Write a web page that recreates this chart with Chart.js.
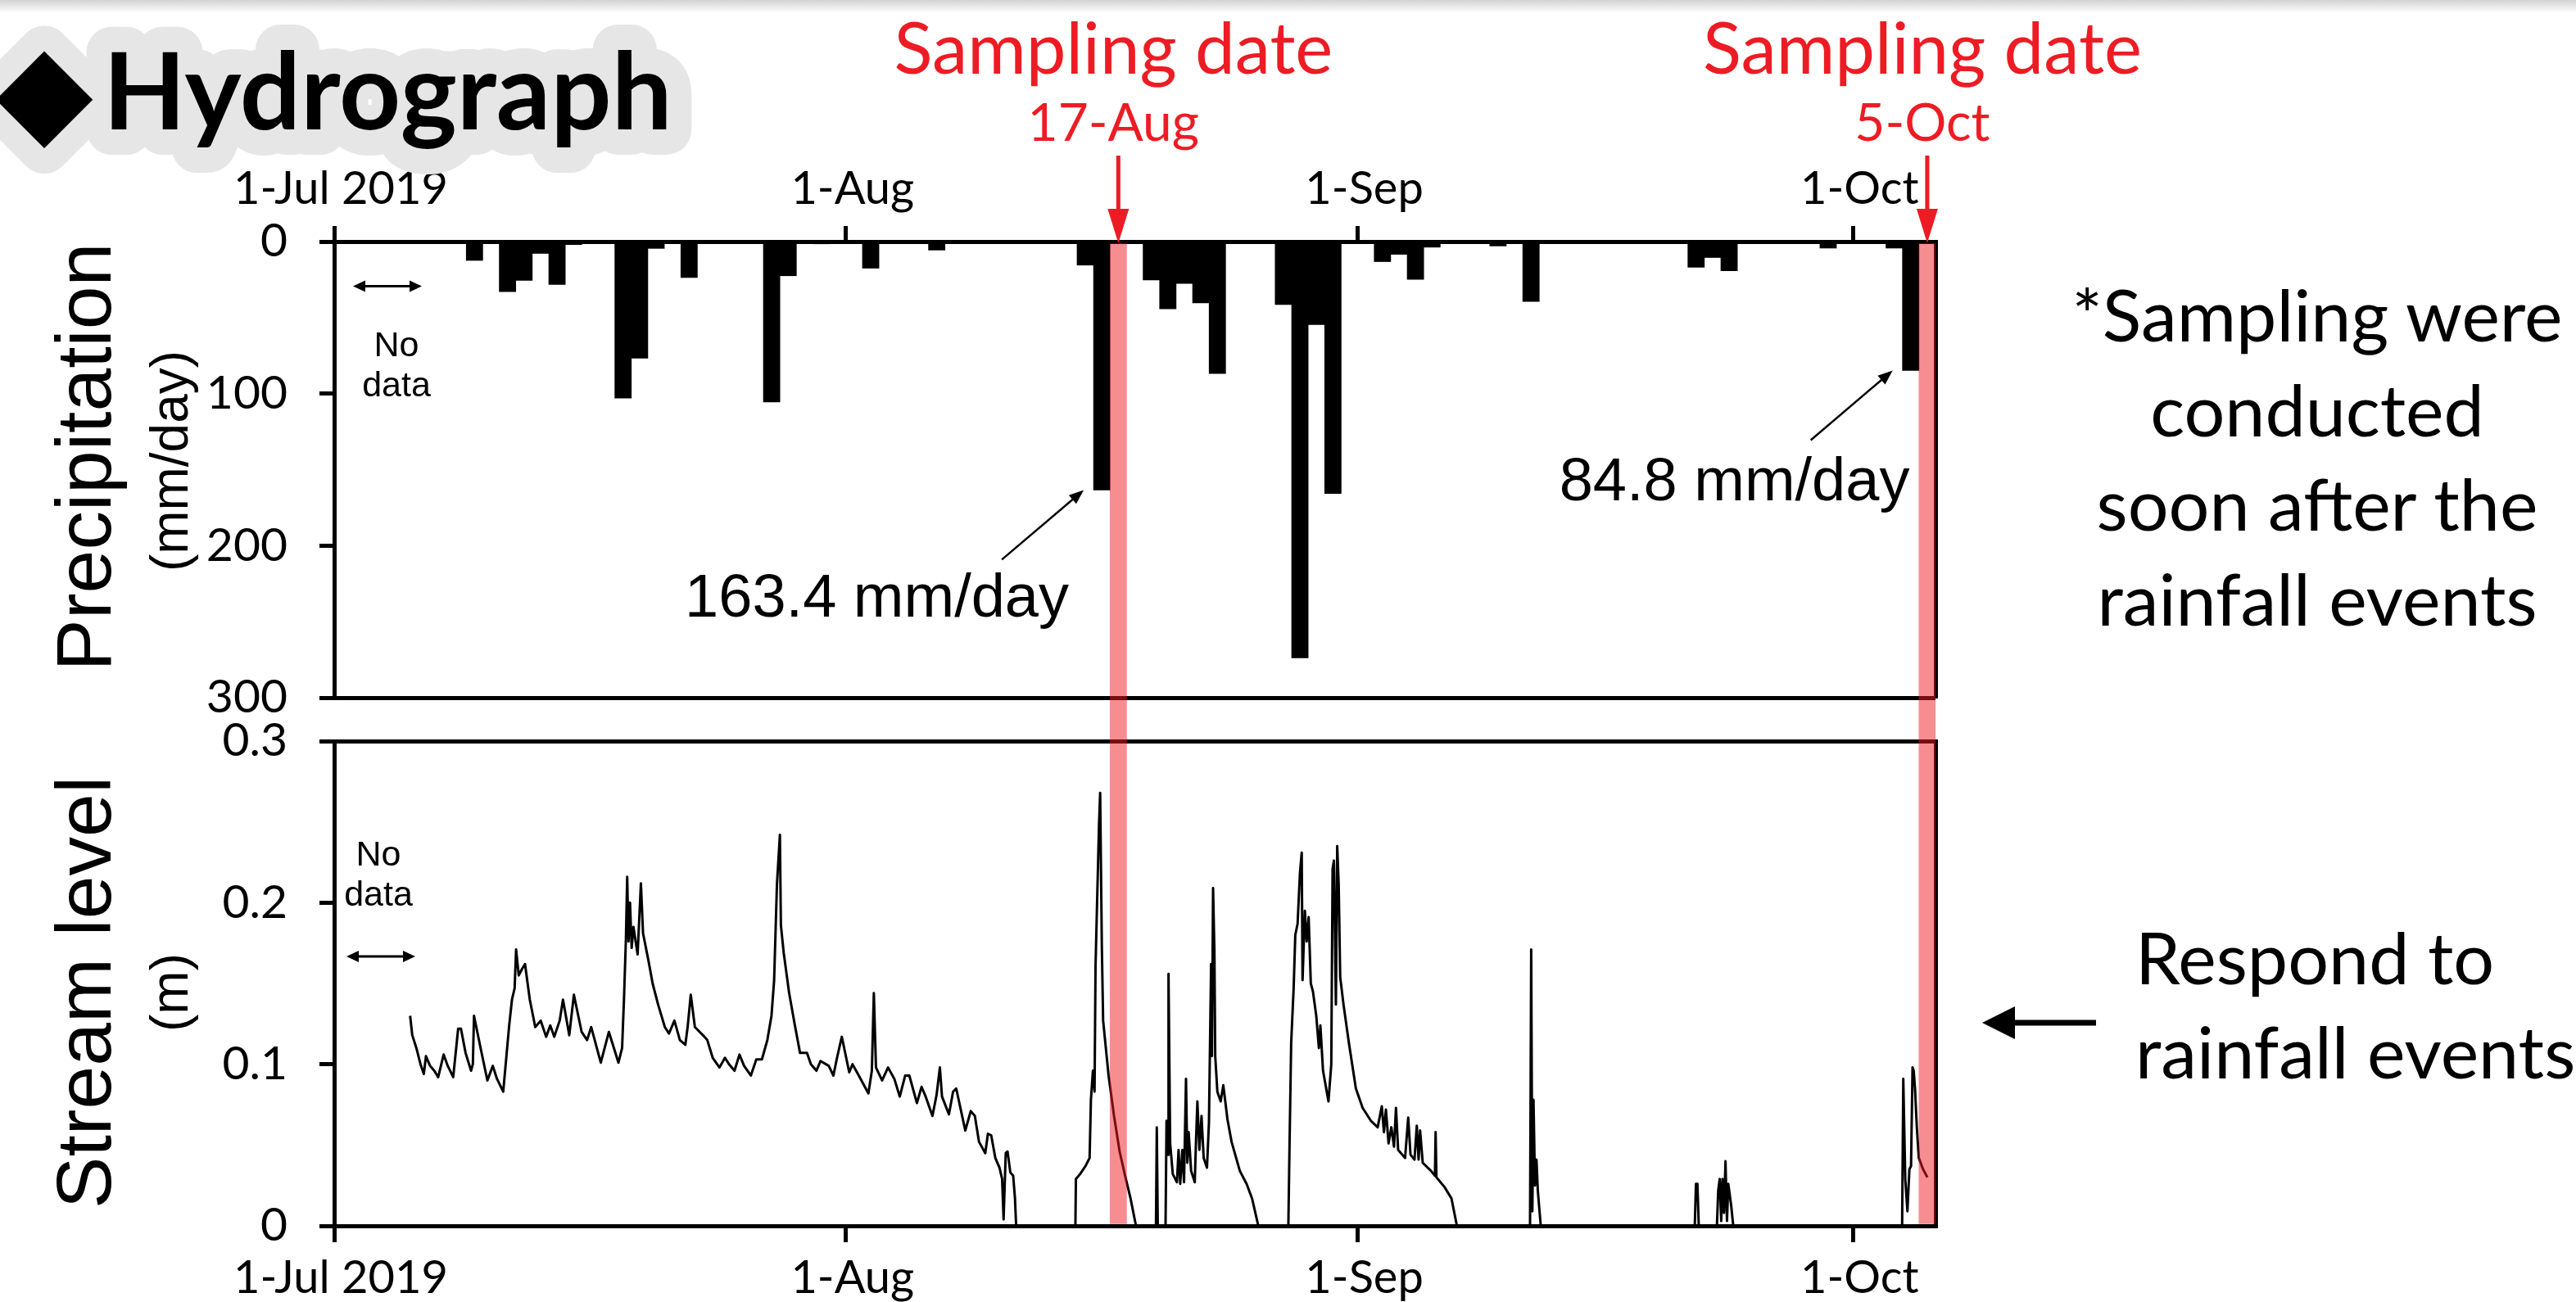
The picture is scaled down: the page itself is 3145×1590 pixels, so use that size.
<!DOCTYPE html>
<html>
<head>
<meta charset="utf-8">
<script src="https://cdn.jsdelivr.net/npm/chart.js@4.4.1/dist/chart.umd.min.js"></script>
<style>
html,body{margin:0;padding:0;background:#fff;}
#wrap{position:relative;width:3145px;height:1590px;overflow:hidden;background:#fff;}
#topbar{position:absolute;left:0;top:0;width:3145px;height:16px;background:linear-gradient(#d2d2d2,#ffffff);}
#c{position:absolute;left:0;top:0;}
#ov{position:absolute;left:0;top:0;}
</style>
</head>
<body>
<div id="wrap">
<div id="topbar"></div>
<canvas id="c" width="3145" height="1590"></canvas>
<svg id="ov" width="3145" height="1590" xmlns="http://www.w3.org/2000/svg"></svg>
</div>
<script>
// ---------------- DATA (days since 1 Jul 2019) ----------------
const precipDays   = [8, 10, 11, 12, 13, 14, 17, 18, 19, 21, 26, 27, 29, 32, 36, 45, 46, 49, 50, 51, 52, 53, 57, 58, 59, 60, 63, 64, 65, 66, 70, 72, 82, 83, 84, 90, 94, 95];
const precipValues = [12.4, 33.0, 25.6, 7.8, 28.2, 2.0, 103, 76.7, 4.5, 23.7, 105.5, 22.5, 1.5, 17.5, 5.6, 15.5, 163.4, 25.3, 44.3, 27.6, 40.4, 86.8, 41.4, 273.9, 54.6, 165.7, 13.2, 8.4, 24.9, 3.7, 2.9, 39.4, 16.9, 10.5, 19.2, 4.3, 4.3, 84.8];

const levelDays = [
 4.60,4.73,4.98,5.23,5.43,5.56,5.81,6.06,6.30,6.63,6.88,7.21,7.51,7.68,7.96,8.29,8.40,8.47,8.87,9.28,
 9.61,9.86,10.24,10.60,10.77,10.93,11.02,11.18,11.38,11.56,11.85,12.18,12.51,12.84,13.09,13.33,13.66,13.86,14.24,14.52,
 14.99,15.32,15.57,16.15,16.64,17.22,17.44,17.55,17.67,17.75,17.83,17.92,18.02,18.13,18.38,18.58,18.71,19.04,19.29,19.62,
 20.03,20.28,20.61,20.94,21.27,21.41,21.60,21.85,22.43,22.60,22.93,23.34,23.67,23.92,24.25,24.55,24.83,25.24,25.57,25.91,
 26.24,26.49,26.65,26.82,26.90,27.00,27.06,27.23,27.56,27.89,28.22,28.64,28.88,29.21,29.46,29.96,30.24,30.46,30.75,31.20,
 31.40,31.78,32.36,32.57,32.69,32.82,33.19,33.55,33.93,34.26,34.59,34.84,35.30,35.58,35.83,36.24,36.49,36.69,36.82,37.24,
 37.49,37.68,38.23,38.56,38.81,39.06,39.44,39.60,39.80,40.05,40.30,40.46,40.55,40.68,40.79,40.96,41.13,41.24,41.31,44.90,
 44.93,45.18,45.51,45.76,45.84,45.96,46.06,46.12,46.22,46.33,46.40,46.50,46.58,46.91,47.24,47.58,47.91,48.24,48.57,49.78,
 49.83,49.89,50.36,50.42,50.51,50.54,50.64,50.80,51.05,51.15,51.25,51.38,51.48,51.60,51.68,51.76,51.91,52.13,52.21,52.29,
 52.41,52.54,52.67,52.87,52.99,53.12,53.17,53.24,53.32,53.37,53.50,53.70,53.86,54.11,54.36,54.86,55.27,55.60,55.98,57.80,
 57.87,57.97,58.12,58.22,58.36,58.50,58.61,58.66,58.80,58.91,59.03,59.16,59.29,59.49,59.65,59.74,59.90,60.23,60.40,60.48,
 60.56,60.68,60.76,60.85,60.94,61.14,61.47,61.89,62.30,62.80,63.21,63.46,63.59,63.71,63.87,64.04,64.20,64.32,64.45,64.87,
 65.06,65.20,65.44,65.58,65.69,65.78,65.94,66.44,66.68,66.72,66.77,67.26,67.68,68.01,72.44,72.51,72.58,72.65,72.74,72.83,
 72.91,73.09,82.42,82.49,82.58,82.66,83.76,83.84,83.93,84.02,84.10,84.19,84.28,84.37,84.45,84.63,84.75,94.98,95.05,95.17,
 95.30,95.42,95.52,95.61,95.68,95.76,95.87,95.99,96.25,96.51
];
const levelValues = [
 0.130,0.118,0.110,0.100,0.094,0.105,0.099,0.096,0.092,0.106,0.099,0.092,0.122,0.122,0.107,0.096,0.100,0.130,0.110,0.090,
 0.099,0.091,0.083,0.124,0.140,0.147,0.171,0.155,0.159,0.162,0.140,0.123,0.127,0.117,0.124,0.117,0.127,0.140,0.118,0.143,
 0.120,0.115,0.123,0.101,0.120,0.101,0.110,0.139,0.177,0.216,0.176,0.200,0.172,0.185,0.168,0.212,0.181,0.164,0.150,0.137,
 0.123,0.119,0.127,0.115,0.112,0.123,0.143,0.123,0.117,0.115,0.104,0.098,0.104,0.100,0.096,0.106,0.099,0.093,0.103,0.103,
 0.115,0.130,0.152,0.211,0.225,0.242,0.186,0.169,0.144,0.125,0.107,0.107,0.100,0.096,0.102,0.099,0.093,0.104,0.117,0.095,
 0.100,0.093,0.082,0.096,0.144,0.098,0.090,0.098,0.091,0.080,0.093,0.093,0.076,0.086,0.080,0.068,0.081,0.098,0.080,0.069,
 0.083,0.085,0.059,0.071,0.068,0.052,0.045,0.057,0.056,0.042,0.036,0.029,0.004,0.045,0.046,0.033,0.031,0.017,0,0,
 0.029,0.032,0.037,0.042,0.078,0.096,0.083,0.161,0.203,0.248,0.268,0.174,0.127,0.093,0.068,0.046,0.031,0.017,0,0,
 0.061,0,0,0.065,0.044,0.156,0.051,0.032,0.027,0.047,0.026,0.047,0.027,0.091,0.039,0.058,0.034,0.027,0.054,0.077,
 0.047,0.068,0.042,0.036,0.064,0.162,0.105,0.209,0.170,0.105,0.083,0.077,0.087,0.066,0.052,0.034,0.026,0.017,0,0,
 0.049,0.113,0.147,0.180,0.187,0.218,0.231,0.152,0.195,0.176,0.191,0.150,0.145,0.130,0.110,0.124,0.096,0.077,0.100,0.221,
 0.226,0.137,0.235,0.211,0.154,0.137,0.113,0.085,0.073,0.065,0.061,0.074,0.058,0.072,0.051,0.061,0.049,0.073,0.047,0.042,
 0.067,0.044,0.041,0.062,0.041,0.059,0.039,0.034,0.031,0.058,0.030,0.024,0.017,0,0,0.171,0.009,0.078,0.025,0.041,
 0.022,0,0,0.026,0.026,0,0,0.022,0.029,0.003,0.029,0.008,0.040,0.003,0.026,0.012,0,0,0.091,0.029,
 0.009,0.035,0.037,0.098,0.096,0.085,0.061,0.042,0.035,0.030
];

const samplingDays   = [47, 96];
const samplingLabels = ['17-Aug', '5-Oct'];
const xTickDays   = [0, 31, 62, 92];
const xTickLabels = ['1-Jul 2019', '1-Aug', '1-Sep', '1-Oct'];
const precipTicks = [0, 100, 200, 300];
const precipTickLabels = ['0', '100', '200', '300'];
const levelTicks = [0, 0.1, 0.2, 0.3];
const levelTickLabels = ['0', '0.1', '0.2', '0.3'];
const annotatedBars = [{day: 46, value: 163.4, text: '163.4 mm/day'}, {day: 95, value: 84.8, text: '84.8 mm/day'}];

// ---------------- CHART ----------------
const BAND = 'rgba(237,28,36,0.5)';
const tickFontY = {family: 'Lato', size: 57};
const tickFontX = {family: 'Lato', size: 56};

function fixTicks(list) { return s => { s.ticks = list.map(v => ({value: v})); }; }
function leftWidth(s) { s.width = 408; }
function rightWidth(s) { s.width = 0; }

const bandDataset = (axis, lo, hi) => ({
  type: 'bar', xAxisID: 'x', yAxisID: axis,
  data: samplingDays.map(d => ({x: d + 0.5, y: [lo, hi]})),
  backgroundColor: BAND, borderWidth: 0, grouped: false,
  barPercentage: 1, categoryPercentage: 1, order: 0
});

const chart = new Chart(document.getElementById('c'), {
  type: 'line',
  data: {
    datasets: [
      bandDataset('yS', 0, 0.3),
      bandDataset('yG', 0, 1),
      bandDataset('yP', 0, 300),
      {
        type: 'line', xAxisID: 'x', yAxisID: 'yS',
        data: levelDays.map((d, i) => ({x: d, y: levelValues[i]})),
        borderColor: '#000', borderWidth: 3, pointRadius: 0, tension: 0,
        borderJoinStyle: 'round', order: 1
      },
      {
        type: 'bar', xAxisID: 'x', yAxisID: 'yP',
        data: precipDays.map((d, i) => ({x: d + 0.5, y: precipValues[i]})),
        backgroundColor: '#000', borderWidth: 0, grouped: false,
        barPercentage: 1, categoryPercentage: 1, order: 2
      }
    ]
  },
  options: {
    responsive: false, animation: false, devicePixelRatio: 1, events: [],
    layout: {padding: {left: 0, top: 0, right: 782, bottom: 0}},
    plugins: {legend: {display: false}, tooltip: {enabled: false}, title: {display: false}},
    scales: {
      x: {
        type: 'linear', position: 'bottom', min: 0, max: 97, offset: false,
        afterBuildTicks: fixTicks(xTickDays),
        afterFit: s => { s.height = 93; },
        ticks: {callback: (v, i) => xTickLabels[i], font: tickFontX, color: '#000', padding: 10,
                maxRotation: 0, autoSkip: false, labelOffset: 8},
        grid: {drawOnChartArea: false, drawTicks: true, tickLength: 20, color: '#000', lineWidth: 5, offset: false},
        border: {display: true, color: '#000', width: 5}
      },
      xTop: {
        type: 'linear', position: 'top', min: 0, max: 97, offset: false,
        afterBuildTicks: fixTicks(xTickDays),
        afterFit: s => { s.height = 295; },
        ticks: {callback: (v, i) => xTickLabels[i], font: tickFontX, color: '#000', padding: 11,
                maxRotation: 0, autoSkip: false, labelOffset: 8},
        grid: {drawOnChartArea: false, drawTicks: true, tickLength: 19, color: '#000', lineWidth: 5, offset: false},
        border: {display: true, color: '#000', width: 5}
      },
      // left stack: defined bottom-first (later definitions are placed on top)
      yS: {
        type: 'linear', position: 'left', stack: 'L', stackWeight: 592, min: 0, max: 0.3,
        afterBuildTicks: fixTicks(levelTicks), afterFit: leftWidth,
        ticks: {callback: (v, i) => levelTickLabels[i], font: tickFontY, color: '#000', padding: 39, autoSkip: false},
        grid: {color: c => (c.tick && c.tick.value === 0.3) ? '#000' : 'rgba(0,0,0,0)', tickColor: '#000',
               lineWidth: 5, tickLength: 18, drawTicks: true, drawOnChartArea: true},
        border: {display: true, color: '#000', width: 5}
      },
      yG: {
        type: 'linear', position: 'left', stack: 'L', stackWeight: 53, min: 0, max: 1,
        afterFit: leftWidth,
        ticks: {display: false}, grid: {display: false}, border: {display: false}
      },
      yP: {
        type: 'linear', position: 'left', stack: 'L', stackWeight: 557, min: 0, max: 300, reverse: true,
        afterBuildTicks: fixTicks(precipTicks), afterFit: leftWidth,
        ticks: {callback: (v, i) => precipTickLabels[i], font: tickFontY, color: '#000', padding: 39, autoSkip: false},
        grid: {color: c => (c.tick && c.tick.value === 300) ? '#000' : 'rgba(0,0,0,0)', tickColor: '#000',
               lineWidth: 5, tickLength: 18, drawTicks: true, drawOnChartArea: true},
        border: {display: true, color: '#000', width: 5}
      },
      // right frame stack (right side is placed top-first)
      yPR: {type: 'linear', position: 'right', stack: 'R', stackWeight: 557, afterFit: rightWidth,
            ticks: {display: false}, grid: {display: false}, border: {display: true, color: '#000', width: 5}},
      yGR: {type: 'linear', position: 'right', stack: 'R', stackWeight: 53, afterFit: rightWidth,
            ticks: {display: false}, grid: {display: false}, border: {display: false}},
      ySR: {type: 'linear', position: 'right', stack: 'R', stackWeight: 592, afterFit: rightWidth,
            ticks: {display: false}, grid: {display: false}, border: {display: true, color: '#000', width: 5}}
    }
  }
});

// ---------------- OVERLAY TEXT / ANNOTATIONS ----------------
const X = chart.scales.x, YP = chart.scales.yP, YS = chart.scales.yS;
const RED = 'rgb(237,28,36)';
let s = '';
function txt(x, y, str, size, opts = {}) {
  const fam = opts.family || 'Lato';
  const anchor = opts.anchor || 'start';
  const fill = opts.fill || '#000';
  const weight = opts.weight || 400;
  const extra = opts.extra || '';
  return `<text x="${x}" y="${y}" font-family="${fam}" font-size="${size}" font-weight="${weight}" text-anchor="${anchor}" fill="${fill}" ${extra}>${str}</text>`;
}
function arrowHead(x2, y2, ux, uy, len, half, color) {
  const bx = x2 - ux * len, by = y2 - uy * len;
  const px = -uy, py = ux;
  return `<polygon points="${x2},${y2} ${bx + px * half},${by + py * half} ${bx - px * half},${by - py * half}" fill="${color}"/>`;
}
function arrow(x1, y1, x2, y2, w, len, half, color) {
  const dx = x2 - x1, dy = y2 - y1, L = Math.hypot(dx, dy), ux = dx / L, uy = dy / L;
  return `<line x1="${x1}" y1="${y1}" x2="${x2 - ux * len * 0.8}" y2="${y2 - uy * len * 0.8}" stroke="${color}" stroke-width="${w}"/>` +
         arrowHead(x2, y2, ux, uy, len, half, color);
}
function dblArrow(x1, x2, y, color) {
  return `<line x1="${x1 + 10}" y1="${y}" x2="${x2 - 10}" y2="${y}" stroke="${color}" stroke-width="3"/>` +
         arrowHead(x1, y, -1, 0, 15, 7, color) + arrowHead(x2, y, 1, 0, 15, 7, color);
}

// title with grey glow
const glow = 'stroke="#e6e6e6" stroke-width="62" stroke-linejoin="round"';
s += txt(54, 162, '◆', 155, {family: 'DejaVu Sans', anchor: 'middle', fill: '#e6e6e6', extra: glow});
s += txt(126, 158, 'Hydrograph', 131, {weight: 700, fill: '#e6e6e6', extra: glow});
s += txt(54, 162, '◆', 155, {family: 'DejaVu Sans', anchor: 'middle'});
s += txt(126, 158, 'Hydrograph', 131, {weight: 700});

// sampling date labels + red arrows
samplingDays.forEach((d, i) => {
  const cx = (X.getPixelForValue(d) + X.getPixelForValue(d + 1)) / 2;
  const top = YP.getPixelForValue(0);
  s += txt(cx - 6, 90, 'Sampling date', 87, {anchor: 'middle', fill: RED});
  s += txt(cx - 6, 172, samplingLabels[i], 64, {anchor: 'middle', fill: RED});
  s += `<line x1="${cx}" y1="190" x2="${cx}" y2="${top - 30}" stroke="${RED}" stroke-width="5"/>`;
  s += `<polygon points="${cx - 13},${top - 40} ${cx + 13},${top - 40} ${cx},${top + 2}" fill="${RED}"/>`;
});

// bar annotations
annotatedBars.forEach(a => {
  const tipX = X.getPixelForValue(a.day) - 12, tipY = YP.getPixelForValue(a.value);
  s += arrow(tipX - 100, tipY + 85, tipX, tipY, 2.5, 18, 7, '#000');
  const first = a.day === 46;
  s += txt(first ? tipX - 487 : tipX - 407, first ? tipY + 155 : tipY + 159, a.text, 74, {family: 'Liberation Sans'});
});

// "No data" notes
s += dblArrow(431, 515, YP.getPixelForValue(29.4), '#000');
s += txt(484, 435, 'No', 43, {family: 'Liberation Sans', anchor: 'middle'});
s += txt(484, 484, 'data', 43, {family: 'Liberation Sans', anchor: 'middle'});
s += dblArrow(423, 507, 1168, '#000');
s += txt(462, 1057, 'No', 43, {family: 'Liberation Sans', anchor: 'middle'});
s += txt(462, 1106, 'data', 43, {family: 'Liberation Sans', anchor: 'middle'});

// axis titles
s += `<text transform="translate(135,558) rotate(-90)" font-family="Liberation Sans" font-size="95" text-anchor="middle" fill="#000">Precipitation</text>`;
s += `<text transform="translate(229,563) rotate(-90)" font-family="Liberation Sans" font-size="64" text-anchor="middle" fill="#000">(mm/day)</text>`;
s += `<text transform="translate(135,1212) rotate(-90)" font-family="Liberation Sans" font-size="95" text-anchor="middle" fill="#000">Stream level</text>`;
s += `<text transform="translate(229,1212) rotate(-90)" font-family="Liberation Sans" font-size="64" text-anchor="middle" fill="#000">(m)</text>`;

// right-side notes
s += txt(2829, 417, '*Sampling were', 88, {anchor: 'middle'});
s += txt(2829, 533, 'conducted', 88, {anchor: 'middle'});
s += txt(2829, 648, 'soon after the', 88, {anchor: 'middle'});
s += txt(2829, 764, 'rainfall events', 88, {anchor: 'middle'});
s += txt(2607, 1202, 'Respond to', 88);
s += txt(2607, 1317, 'rainfall events', 88);
s += `<line x1="2559" y1="1249" x2="2452" y2="1249" stroke="#000" stroke-width="7"/>`;
s += `<polygon points="2420,1249 2460,1229 2460,1269" fill="#000"/>`;

document.getElementById('ov').innerHTML = s;
</script>
</body>
</html>
